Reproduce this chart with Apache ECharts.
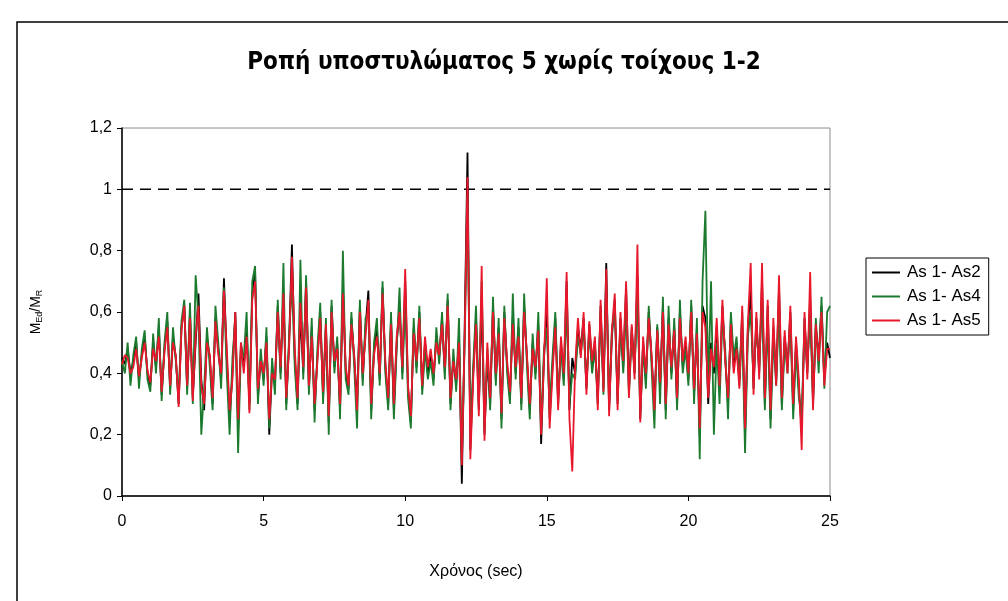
<!DOCTYPE html>
<html>
<head>
<meta charset="utf-8">
<script src="https://cdn.jsdelivr.net/npm/echarts@6/dist/echarts.min.js"></script>
<style>
  html, body { margin: 0; padding: 0; background: #fff; }
  #chart { width: 1008px; height: 601px; }
</style>
</head>
<body>
<div id="chart"></div>
<script>
// Sampling step of the time history (sec)
const STEP = 0.1;

// M_Ed/M_R of column 5, one row per second (10 samples each)
const as1As2 = [
  0.45,0.43,0.48,0.40,0.44,0.50,0.38,0.46,0.52,0.40,
  0.36,0.50,0.42,0.55,0.33,0.48,0.57,0.35,0.52,0.45,
  0.30,0.55,0.62,0.35,0.60,0.32,0.50,0.66,0.38,0.28,
  0.52,0.45,0.30,0.58,0.48,0.38,0.71,0.45,0.25,0.40,
  0.60,0.22,0.50,0.42,0.55,0.30,0.66,0.73,0.32,0.45,
  0.38,0.52,0.20,0.42,0.36,0.62,0.40,0.66,0.30,0.50,
  0.82,0.45,0.30,0.60,0.40,0.70,0.35,0.55,0.28,0.45,
  0.60,0.32,0.55,0.24,0.62,0.42,0.50,0.28,0.68,0.40,
  0.35,0.58,0.45,0.30,0.62,0.38,0.55,0.67,0.28,0.48,
  0.55,0.38,0.68,0.42,0.30,0.58,0.28,0.50,0.62,0.40,
  0.70,0.35,0.24,0.55,0.42,0.60,0.35,0.50,0.40,0.46,
  0.38,0.52,0.45,0.58,0.40,0.64,0.30,0.45,0.36,0.52,
  0.04,0.55,1.12,0.15,0.40,0.58,0.28,0.65,0.20,0.45,
  0.30,0.62,0.38,0.55,0.25,0.60,0.42,0.32,0.58,0.40,
  0.55,0.30,0.62,0.45,0.28,0.50,0.40,0.56,0.17,0.45,
  0.60,0.25,0.42,0.58,0.30,0.50,0.38,0.70,0.28,0.45,
  0.40,0.55,0.48,0.58,0.35,0.56,0.42,0.50,0.30,0.62,
  0.35,0.76,0.28,0.52,0.64,0.30,0.58,0.42,0.68,0.35,
  0.55,0.40,0.72,0.25,0.50,0.38,0.60,0.45,0.30,0.55,
  0.35,0.62,0.28,0.58,0.40,0.55,0.30,0.60,0.42,0.50,
  0.38,0.62,0.33,0.55,0.20,0.62,0.58,0.30,0.50,0.40,
  0.55,0.35,0.62,0.45,0.30,0.58,0.42,0.50,0.38,0.60,
  0.20,0.55,0.67,0.35,0.58,0.40,0.70,0.30,0.62,0.25,
  0.55,0.38,0.68,0.30,0.52,0.42,0.60,0.28,0.50,0.35,
  0.22,0.58,0.40,0.65,0.30,0.55,0.45,0.62,0.38,0.50,
  0.45
];

const as1As4 = [
  0.44,0.40,0.50,0.36,0.46,0.52,0.35,0.48,0.54,0.38,
  0.34,0.53,0.40,0.58,0.31,0.50,0.60,0.33,0.55,0.44,
  0.32,0.57,0.64,0.33,0.63,0.30,0.72,0.58,0.20,0.35,
  0.55,0.42,0.28,0.62,0.50,0.35,0.68,0.40,0.20,0.45,
  0.58,0.14,0.48,0.45,0.60,0.28,0.70,0.75,0.30,0.48,
  0.36,0.55,0.22,0.45,0.33,0.64,0.38,0.76,0.28,0.52,
  0.70,0.42,0.28,0.77,0.38,0.72,0.33,0.58,0.24,0.48,
  0.63,0.30,0.58,0.20,0.64,0.40,0.52,0.25,0.80,0.38,
  0.33,0.60,0.42,0.22,0.64,0.36,0.58,0.60,0.25,0.50,
  0.58,0.36,0.70,0.40,0.28,0.60,0.25,0.48,0.68,0.38,
  0.65,0.32,0.22,0.58,0.40,0.62,0.33,0.48,0.38,0.44,
  0.36,0.55,0.43,0.60,0.38,0.66,0.28,0.48,0.34,0.58,
  0.12,0.50,0.98,0.20,0.42,0.62,0.30,0.70,0.22,0.48,
  0.28,0.65,0.36,0.58,0.22,0.62,0.40,0.30,0.66,0.38,
  0.58,0.28,0.66,0.42,0.25,0.53,0.38,0.60,0.22,0.48,
  0.55,0.28,0.45,0.60,0.32,0.48,0.36,0.62,0.30,0.40,
  0.38,0.52,0.46,0.55,0.36,0.54,0.40,0.48,0.32,0.60,
  0.33,0.70,0.30,0.55,0.60,0.32,0.55,0.40,0.62,0.33,
  0.52,0.42,0.66,0.28,0.48,0.35,0.62,0.42,0.22,0.56,
  0.30,0.65,0.25,0.62,0.38,0.58,0.28,0.64,0.40,0.48,
  0.36,0.64,0.30,0.58,0.12,0.70,0.93,0.35,0.70,0.20,
  0.50,0.30,0.58,0.48,0.25,0.60,0.45,0.52,0.36,0.55,
  0.14,0.52,0.60,0.38,0.55,0.42,0.65,0.28,0.58,0.22,
  0.52,0.36,0.62,0.28,0.50,0.40,0.58,0.25,0.48,0.32,
  0.25,0.55,0.42,0.60,0.32,0.58,0.40,0.65,0.35,0.60,
  0.62
];

const as1As5 = [
  0.43,0.46,0.45,0.40,0.42,0.48,0.39,0.45,0.50,0.41,
  0.37,0.48,0.44,0.52,0.34,0.47,0.55,0.36,0.50,0.46,
  0.29,0.54,0.62,0.36,0.58,0.31,0.52,0.62,0.36,0.30,
  0.50,0.46,0.32,0.57,0.46,0.40,0.67,0.48,0.28,0.38,
  0.60,0.25,0.50,0.40,0.52,0.27,0.64,0.70,0.35,0.44,
  0.40,0.50,0.25,0.40,0.38,0.60,0.42,0.66,0.32,0.48,
  0.78,0.48,0.32,0.63,0.42,0.68,0.36,0.52,0.30,0.44,
  0.58,0.34,0.56,0.26,0.60,0.44,0.48,0.30,0.66,0.42,
  0.36,0.56,0.46,0.28,0.60,0.40,0.52,0.64,0.30,0.46,
  0.52,0.40,0.66,0.44,0.32,0.56,0.30,0.52,0.60,0.42,
  0.74,0.36,0.26,0.53,0.44,0.58,0.36,0.52,0.42,0.48,
  0.40,0.50,0.46,0.56,0.42,0.62,0.32,0.44,0.38,0.50,
  0.10,0.52,1.04,0.12,0.38,0.56,0.26,0.75,0.18,0.50,
  0.32,0.60,0.40,0.53,0.27,0.58,0.44,0.34,0.56,0.42,
  0.52,0.32,0.60,0.46,0.30,0.48,0.42,0.54,0.20,0.44,
  0.71,0.22,0.40,0.55,0.28,0.52,0.40,0.73,0.25,0.08,
  0.42,0.58,0.45,0.60,0.33,0.57,0.44,0.52,0.28,0.64,
  0.34,0.74,0.26,0.54,0.66,0.28,0.60,0.44,0.70,0.32,
  0.56,0.38,0.82,0.24,0.52,0.40,0.58,0.46,0.28,0.54,
  0.37,0.60,0.30,0.56,0.42,0.54,0.32,0.58,0.44,0.52,
  0.40,0.60,0.35,0.53,0.22,0.60,0.55,0.32,0.48,0.42,
  0.58,0.36,0.64,0.44,0.32,0.56,0.40,0.48,0.35,0.62,
  0.22,0.56,0.76,0.33,0.60,0.38,0.76,0.32,0.64,0.28,
  0.58,0.36,0.72,0.32,0.54,0.40,0.62,0.30,0.52,0.38,
  0.15,0.60,0.38,0.73,0.28,0.56,0.44,0.60,0.36,0.48,
  0.48
];

// Capacity limit M_Ed/M_R = 1
const limitValue = 1;

const seriesNames = ['As 1- As2', 'As 1- As4', 'As 1- As5'];
const seriesColors = ['#000000', '#1b7a2e', '#e8172b'];
const seriesValues = [as1As2, as1As4, as1As5];

const toPairs = vals => vals.map((v, i) => [+(i * STEP).toFixed(1), v]);

const FONT = '"Liberation Sans", Arial, sans-serif';

const chart = echarts.init(document.getElementById('chart'), null, { renderer: 'canvas' });

const lineSeries = seriesValues.map((vals, k) => ({
  name: seriesNames[k],
  type: 'line',
  data: toPairs(vals),
  symbol: 'none',
  smooth: false,
  animation: false,
  lineStyle: { color: seriesColors[k], width: 1.8 },
  itemStyle: { color: seriesColors[k] },
  z: 3 + k
}));

lineSeries.push({
  name: 'limit',
  type: 'line',
  data: [[0, limitValue], [25, limitValue]],
  symbol: 'none',
  animation: false,
  lineStyle: { color: '#000', width: 1.5, type: [11, 7] },
  z: 2
});

chart.setOption({
  backgroundColor: '#ffffff',
  animation: false,
  title: {
    text: 'Ροπή υποστυλώματος 5 χωρίς τοίχους 1-2',
    left: 'center',
    top: 46,
    textStyle: {
      fontFamily: '"Liberation Sans Narrow", "DejaVu Sans Condensed", "Liberation Sans", sans-serif',
      fontWeight: 'bold',
      fontSize: 24,
      color: '#000'
    }
  },
  legend: {
    data: seriesNames,
    orient: 'vertical',
    left: 866,
    top: 258,
    icon: 'rect',
    itemWidth: 28,
    itemHeight: 2,
    itemGap: 7,
    padding: [6, 8, 6, 6],
    borderColor: '#000',
    borderWidth: 1,
    backgroundColor: '#fff',
    textStyle: { fontFamily: FONT, fontSize: 17, color: '#000', padding: [0, 0, 0, 2] }
  },
  grid: {
    left: 122,
    right: 178,
    top: 128,
    bottom: 105,
    show: true,
    borderColor: '#8c8c8c',
    borderWidth: 1,
    backgroundColor: '#fff'
  },
  xAxis: {
    type: 'value',
    min: 0,
    max: 25,
    interval: 5,
    name: 'Χρόνος (sec)',
    nameLocation: 'middle',
    nameGap: 68,
    nameTextStyle: { fontFamily: FONT, fontSize: 16, color: '#000' },
    axisLine: { show: true, onZero: false, lineStyle: { color: '#000', width: 1.5 } },
    axisTick: { show: true, inside: false, length: 5, lineStyle: { color: '#000' } },
    axisLabel: { fontFamily: FONT, fontSize: 16, color: '#000', margin: 18 },
    splitLine: { show: false }
  },
  yAxis: {
    type: 'value',
    min: 0,
    max: 1.2,
    interval: 0.2,
    name: '{m|M}{s|Ed}{m|/M}{s|R}',
    nameLocation: 'middle',
    nameGap: 78,
    nameRotate: 90,
    nameTextStyle: {
      fontFamily: FONT,
      color: '#000',
      rich: {
        m: { fontFamily: FONT, fontSize: 14, color: '#000' },
        s: { fontFamily: FONT, fontSize: 9, color: '#000', verticalAlign: 'bottom', padding: [6, 0, 0, 0] }
      }
    },
    axisLine: { show: true, onZero: false, lineStyle: { color: '#000', width: 1.5 } },
    axisTick: { show: true, inside: false, length: 5, lineStyle: { color: '#000' } },
    axisLabel: {
      fontFamily: FONT,
      fontSize: 16,
      color: '#000',
      margin: 10,
      formatter: v => String(+v.toFixed(1)).replace('.', ',')
    },
    splitLine: { show: false }
  },
  graphic: [{
    type: 'rect',
    silent: true,
    z: -1,
    shape: { x: 17, y: 22, width: 1100, height: 700 },
    style: { fill: 'none', stroke: '#000', lineWidth: 1.5 }
  }],
  series: lineSeries
});
</script>
</body>
</html>
